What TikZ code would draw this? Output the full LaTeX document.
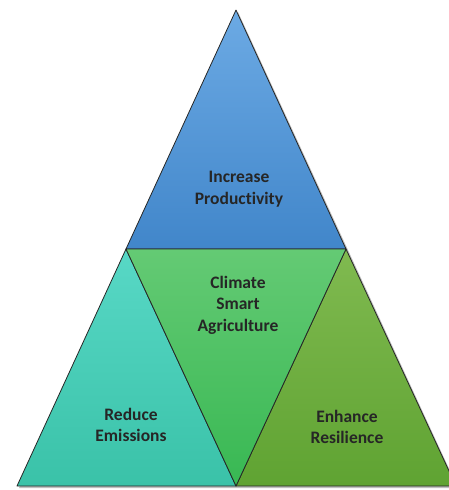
\documentclass[tikz,border=0pt]{standalone}
\usepackage{fontspec}
\setmainfont{Carlito}[Ligatures=NoCommon]
\usetikzlibrary{positioning}

\definecolor{prodtop}{HTML}{6CAAE4}
\definecolor{prodbot}{HTML}{4186CA}
\definecolor{csatop}{HTML}{64CA74}
\definecolor{csabot}{HTML}{38B853}
\definecolor{emistop}{HTML}{58D8C6}
\definecolor{emisbot}{HTML}{3AC2A8}
\definecolor{restop}{HTML}{80BA50}
\definecolor{resbot}{HTML}{5FA332}

\tikzset{
  piece/.style={draw=black!85, line width=0.8pt, line join=round},
  txt/.style={font=\fontsize{17.5}{21.5}\selectfont\bfseries, align=center, text=black!85}
}

\begin{document}
\begin{tikzpicture}[x=1pt,y=-1pt]
    \useasboundingbox (0,0) rectangle (449,490);

    % corners of the big triangle and of the inner one
    \coordinate (apex) at (236,10);
    \coordinate (ml) at (126,249);
    \coordinate (mr) at (346,249);
    \coordinate (bl) at (17,486);
    \coordinate (bm) at (236,486);
    \coordinate (br) at (456,486);

    % soft shadow
    \fill[black, opacity=0.25] ([shift={(2,2)}]apex) -- ([shift={(2,2)}]br) -- ([shift={(2,2)}]bl) -- cycle;

    \path[piece, top color=prodtop, bottom color=prodbot] (apex) -- (mr) -- (ml) -- cycle;
    \path[piece, top color=emistop, bottom color=emisbot] (ml) -- (bm) -- (bl) -- cycle;
    \path[piece, top color=restop, bottom color=resbot] (mr) -- (br) -- (bm) -- cycle;
    \path[piece, top color=csatop, bottom color=csabot] (ml) -- (mr) -- (bm) -- cycle;

    \node[txt] (prod) at (239,189) {Increase\\Productivity};
    \node[txt] (csa) at (238,305) {Climate\\Smart\\Agriculture};
    \node[txt] (emis) at (131,425) {Reduce\\Emissions};
    \node[txt] (res) at (347,427) {Enhance\\Resilience};
\end{tikzpicture}
\end{document}
